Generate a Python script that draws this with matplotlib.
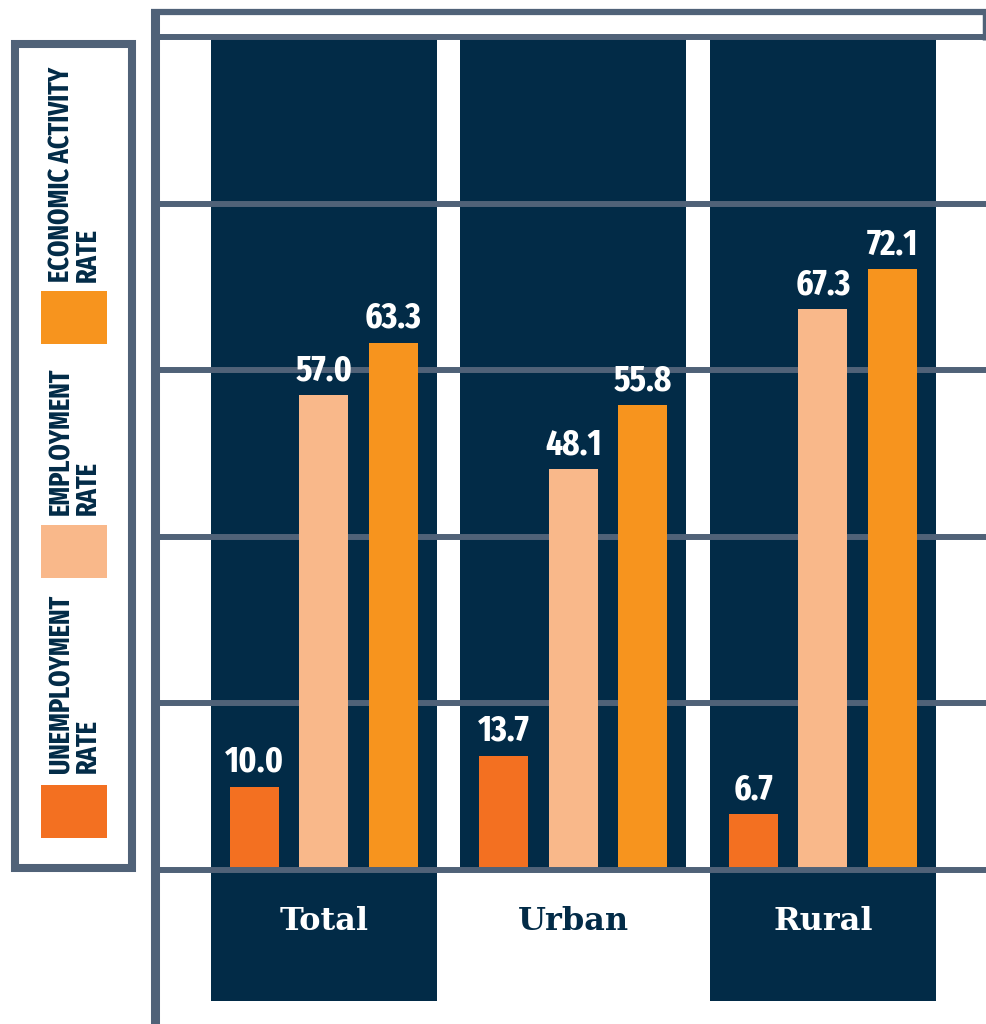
import os
import matplotlib
matplotlib.use("Agg")
import matplotlib.pyplot as plt
from matplotlib import font_manager as fm
from matplotlib.patches import Rectangle

# ---------------- data ----------------
categories = ["Total", "Urban", "Rural"]
unemployment_rate = [10.0, 13.7, 6.7]
employment_rate = [57.0, 48.1, 67.3]
economic_activity_rate = [63.3, 55.8, 72.1]
series_names = ["Unemployment\nrate", "Employment\nrate", "Economic Activity\nrate"]
grid_ticks = [0, 20, 40, 60, 80, 100]

# ---------------- style ----------------
NAVY = "#022B47"
GRAY = "#506278"
C_UNEMP = "#F37021"
C_EMP = "#F9B88A"
C_ECON = "#F7941E"
colors = [C_UNEMP, C_EMP, C_ECON]


def pick_condensed():
    files = list(fm.fontManager.ttflist)

    def base(f):
        return os.path.basename(f.fname).replace("-", "").replace("_", "")

    def ok(f):
        b = base(f)
        return "Italic" not in b and "Oblique" not in b

    prefs = [
        lambda f: "ExtraCondensedBold" in base(f),
        lambda f: "Narrow" in f.name and "Bold" in base(f),
        lambda f: "CondensedBold" in base(f) and "Semi" not in base(f),
        lambda f: "CondensedBold" in base(f),
    ]
    for p in prefs:
        for f in files:
            try:
                if ok(f) and p(f):
                    return fm.FontProperties(fname=f.fname)
            except Exception:
                pass
    return fm.FontProperties(family="DejaVu Sans", weight="bold")


COND = pick_condensed()
SERIF = fm.FontProperties(family="DejaVu Serif", weight="bold")

W, H = 987, 1024
fig = plt.figure(figsize=(W / 100, H / 100), dpi=100)

# pixel mapping
X0, XSTEP = 324.0, 249.5          # px center of first group, group spacing
Y0, YPX = 870.0, 8.33             # px of value 0, px per unit

ax = fig.add_axes([0, 0, 1, 1])
ax.set_xlim(-X0 / XSTEP, (W - X0) / XSTEP)
ax.set_ylim((Y0 - H) / YPX, Y0 / YPX)
ax.axis("off")

# navy panels behind each group
panel_w = 226 / XSTEP
panel_bottom = (Y0 - 1001) / YPX
for i, cat in enumerate(categories):
    bottom = 0 if cat == "Urban" else panel_bottom
    ax.add_patch(Rectangle((i - panel_w / 2, bottom), panel_w, 100 - bottom,
                           facecolor=NAVY, edgecolor="none", zorder=0))

# grid lines
for t in grid_ticks:
    ax.axhline(t, xmin=155 / W, xmax=986 / W, color=GRAY, lw=4.3,
               zorder=3 if t == 0 else 1, solid_capstyle="butt")

# frame lines (top box + left spine)
ov_lines = dict(color=GRAY, solid_capstyle="butt")
ax.plot([(151 - X0) / XSTEP, (987 - X0) / XSTEP], [(Y0 - 12) / YPX] * 2, lw=4.5, zorder=3, **ov_lines)
ax.plot([(155.5 - X0) / XSTEP] * 2, [(Y0 - 9) / YPX, (Y0 - H) / YPX], lw=6.5, zorder=3, **ov_lines)
ax.plot([(984.5 - X0) / XSTEP] * 2, [(Y0 - 9) / YPX, (Y0 - 40) / YPX], lw=2.5, zorder=3, **ov_lines)

# bars
offset = 69.5 / XSTEP
bw = 49 / XSTEP
all_series = [unemployment_rate, employment_rate, economic_activity_rate]
xs = list(range(len(categories)))
for k, vals in enumerate(all_series):
    pos = [x + (k - 1) * offset for x in xs]
    bars = ax.bar(pos, vals, width=bw, color=colors[k], zorder=2, linewidth=0)
    for b, v in zip(bars, vals):
        ax.annotate(f"{v:.1f}", (b.get_x() + b.get_width() / 2, v),
                    xytext=(0, 5), textcoords="offset points",
                    ha="center", va="bottom", color="white",
                    fontproperties=COND, fontsize=26, zorder=4)

# category labels
for i, cat in enumerate(categories):
    ax.text(i, (Y0 - 922) / YPX, cat, ha="center", va="center",
            color=NAVY if cat == "Urban" else "white",
            fontproperties=SERIF, fontsize=23, zorder=4)

# legend box
fig.patches.append(Rectangle((15 / W, 1 - 868 / H), 117 / W, 824 / H,
                             transform=fig.transFigure, facecolor="white",
                             edgecolor=GRAY, linewidth=5.8, zorder=5))
sw_tops = [785, 525, 291]
txt_bottoms = [773, 515, 282]
for k in range(3):
    fig.patches.append(Rectangle((41 / W, 1 - (sw_tops[k] + 53) / H), 66 / W, 53 / H,
                                 transform=fig.transFigure, facecolor=colors[k],
                                 edgecolor="none", zorder=6))
    fig.text(75 / W, 1 - txt_bottoms[k] / H, series_names[k].upper(),
             rotation=90, ha="center", va="bottom", multialignment="left",
             color=NAVY, fontproperties=COND, fontsize=20.5, linespacing=0.9,
             zorder=7)

fig.savefig("out.png", dpi=100)
